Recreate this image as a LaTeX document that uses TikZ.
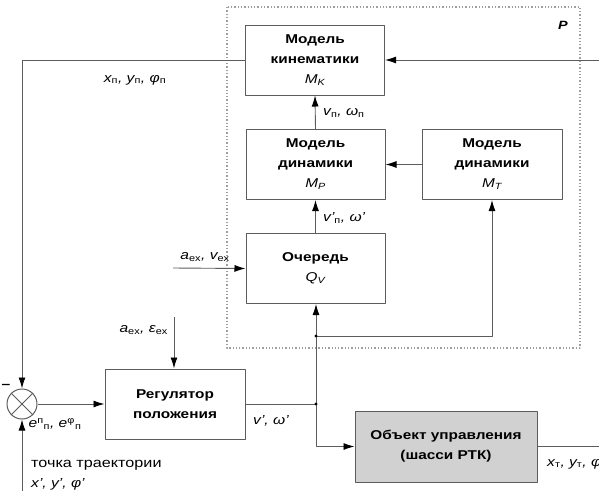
\documentclass[tikz,border=0pt]{standalone}
\usepackage{fontspec}
\setmainfont{Liberation Sans}[FakeStretch=1.2]
\usetikzlibrary{arrows.meta}
\definecolor{lngray}{rgb}{0.36,0.36,0.36}
\definecolor{dotgray}{rgb}{0.62,0.62,0.62}
\definecolor{objfill}{rgb}{0.82,0.82,0.82}
\newcommand{\lo}[1]{\textsubscript{\upshape #1}}
\newcommand{\hi}[1]{\textsuperscript{\upshape #1}}

\begin{document}
\begin{tikzpicture}[x=1pt,y=-1pt,line join=round,
  blk/.style={draw=lngray,line width=1pt,minimum width=139pt,minimum height=70pt,inner sep=0pt,align=center,font=\fontsize{12.8}{20}\selectfont\bfseries},
  lbl/.style={inner sep=0pt,font=\fontsize{13}{15}\selectfont\itshape},
  con/.style={draw=lngray,line width=0.9pt},
  arr/.style={con,-{Latex[length=11pt,width=7pt,black]}}]
  \useasboundingbox (0,0) rectangle (599,491);
  % subsystem P
  \draw[dotgray,line width=1.2pt,dash pattern=on 1.3pt off 2pt] (227,7) rectangle (580,348);
  \node[font=\fontsize{12}{14}\selectfont\bfseries\itshape] (plbl) at (563,25) {P};
  % blocks
  \node[blk] (kin) at (315,60) {Модель\\кинематики\\\textmd{\textit{M}\lo{\itshape K}}};
  \node[blk] (mp) at (315.5,164.5) {Модель\\динамики\\\textmd{\textit{M}\lo{\itshape P}}};
  \node[blk,minimum width=140pt] (mt) at (492,164.5) {Модель\\динамики\\\textmd{\textit{M}\lo{\itshape T}}};
  \node[blk] (que) at (315.5,268.5) {Очередь\\\textmd{\textit{Q}\lo{\itshape V}}};
  \node[blk,minimum width=140pt] (reg) at (175,404) {Регулятор\\положения};
  \node[blk,fill=objfill,minimum width=182pt,minimum height=71pt] (obj) at (446,446.5) {Объект управления\\(шасси РТК)};
  \node[circle,draw=lngray,line width=1pt,minimum size=30pt,inner sep=0pt] (sum) at (22,404) {};
  \draw[con] (sum.north west) -- (sum.south east);
  \draw[con] (sum.north east) -- (sum.south west);
  \node[font=\fontsize{13}{14}\selectfont\bfseries] (minus) at (6,386) {--};
  % free ends and branch points
  \coordinate (kinin) at (599,60);
  \coordinate (fbc) at (22,60);
  \coordinate (trj) at (22,491);
  \coordinate (aeps) at (174,317);
  \coordinate (qin) at (173,268);
  \coordinate (jlow) at (316,404);
  \coordinate (jup) at (316,336);
  \coordinate (out) at (599,446.5);
  % connectors
  \draw[arr] (kinin) -- (kin.east);
  \draw[arr] (kin.west) -- (fbc) -- (sum.north);
  \draw[arr] (mp.north) -- (kin.south);
  \draw[arr] (mt.west) -- (mp.east);
  \draw[arr] (que.north) -- (mp.south);
  \draw[arr] (qin) -- (que.west);
  \draw[arr] (jup) -- (jup |- que.south);
  \draw[arr] (jup) -| (mt.south);
  \draw[con] (reg.east) -- (jlow) -- (jup);
  \draw[arr] (jlow) |- (obj.west);
  \draw[arr] (sum.east) -- (reg.west);
  \draw[arr] (trj) -- (sum.south);
  \draw[arr] (aeps) -- (aeps |- reg.north);
  \draw[con] (obj.east) -- (out);
  \fill[black] (jup) circle (1.7pt);
  \fill[black] (jlow) circle (1.7pt);
  % labels
  \node[lbl] (lxyp) at (135,80) {x\lo{п}, y\lo{п}, φ\lo{п}};
  \node[lbl,anchor=west] (lvw) at (323,113) {v\lo{п}, ω\lo{п}};
  \node[lbl,anchor=west] (lvw2) at (323,218) {v'\lo{п}, ω'};
  \node[lbl] (lav) at (205,257) {a\lo{ex}, v\lo{ex}};
  \node[lbl,anchor=east] (lae) at (168,330) {a\lo{ex}, ε\lo{ex}};
  \node[lbl] (le) at (55,424) {e\hi{п}\lo{п}, e\hi{φ}\lo{п}};
  \node[lbl] (lvo) at (271,421) {v', ω'};
  \node[lbl,anchor=west] (lxyt) at (547,464) {x\lo{т}, y\lo{т}, φ\lo{т}};
  \node[inner sep=0pt,anchor=west,font=\fontsize{13.5}{15}\selectfont] (ltr) at (31,465) {точка траектории};
  \node[lbl,anchor=west] (lxy) at (31,484) {x', y', φ'};
\end{tikzpicture}
\end{document}
